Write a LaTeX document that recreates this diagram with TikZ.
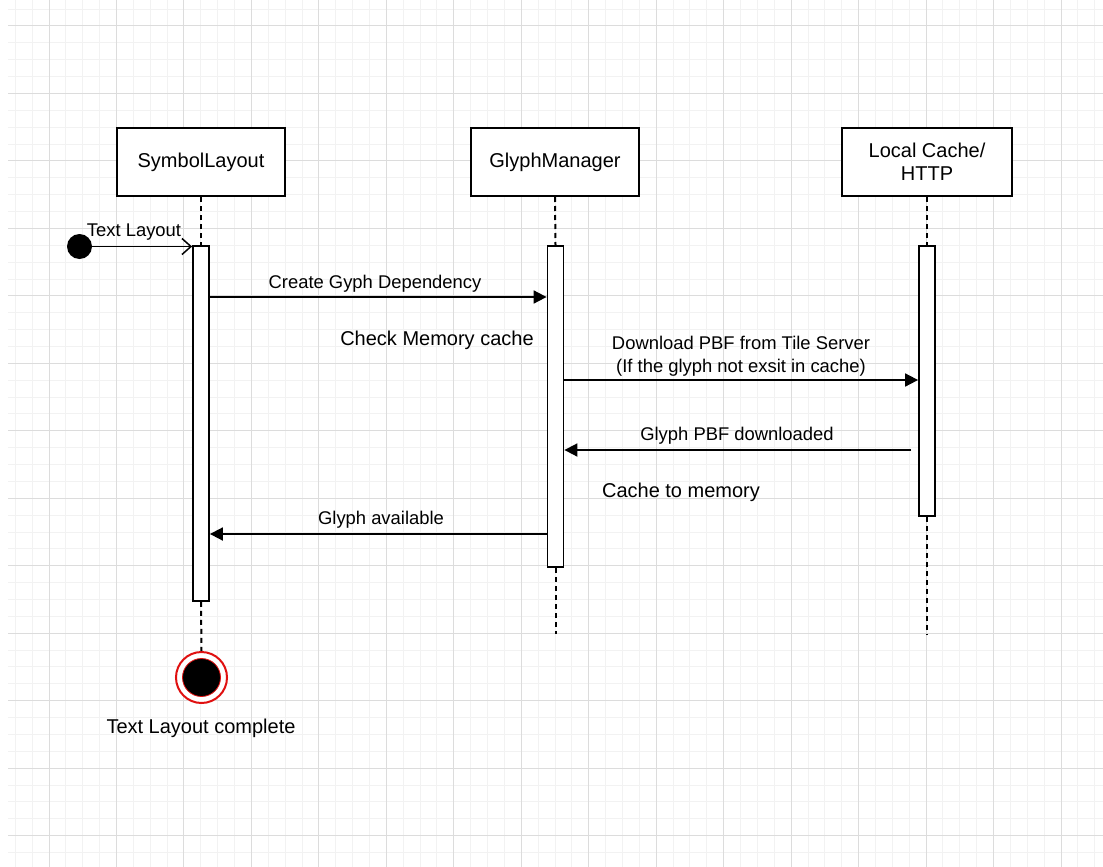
\documentclass[tikz,border=0pt]{standalone}
\usepackage{fontspec}
\setmainfont{Liberation Sans}
\usetikzlibrary{arrows.meta}
\definecolor{minorc}{HTML}{F2F2F2}
\definecolor{majorc}{HTML}{DCDCDC}
\definecolor{endred}{HTML}{E01010}
\tikzset{
  minorgrid/.style={draw=minorc, line width=1pt},
  majorgrid/.style={draw=majorc, line width=1pt},
  headbox/.style={draw=black, fill=white, line width=2pt, minimum width=168pt, minimum height=68pt, inner sep=0pt, align=center, font=\fontsize{20}{23}\selectfont},
  actbar/.style={draw=black, fill=white, line width=1.8pt, minimum width=16pt, inner sep=0pt},
  lifeline/.style={draw=black, line width=2pt, dash pattern=on 5pt off 4pt},
  msg/.style={draw=black, line width=1.8pt, -{Triangle[length=13pt,width=13pt]}},
  msglabel/.style={font=\fontsize{18.4}{23}\selectfont, align=center, inner sep=0pt},
  biglabel/.style={font=\fontsize{20}{23}\selectfont, align=center, inner sep=0pt}
}
\begin{document}
\begin{tikzpicture}[x=1pt,y=-1pt]
\useasboundingbox (0,0) rectangle (1103,867);
\fill[white] (0,0) rectangle (1103,867);
% grid
\foreach \k in {-2,...,62} {\pgfmathsetmacro\xx{49+\k*16.867}\draw[minorgrid] (\xx,0) -- (\xx,867);}
\foreach \k in {-1,...,50} {\pgfmathsetmacro\yy{26+\k*16.867}\draw[minorgrid] (8,\yy) -- (1103,\yy);}
\foreach \k in {0,...,15} {\pgfmathsetmacro\xx{49+\k*67.47}\draw[majorgrid] (\xx,0) -- (\xx,867);}
\foreach \k in {0,...,12} {\pgfmathsetmacro\yy{26+\k*67.47}\draw[majorgrid] (8,\yy) -- (1103,\yy);}

% heads
\node[headbox] (sl) at (201,162) {SymbolLayout};
\node[headbox] (gm) at (555,162) {GlyphManager};
\node[headbox, minimum width=170pt] (lc) at (927,162) {Local Cache/\\HTTP};

% activation bars
\node[actbar, minimum height=355pt] (slbar) at (201,423.5) {};
\node[actbar, minimum height=321pt] (gmbar) at (555.5,406.5) {};
\node[actbar, minimum height=270pt] (lcbar) at (927,381) {};

% end points
\coordinate (gmend) at (555.5,634);
\coordinate (lcend) at (927,634);

% lifelines
\draw[lifeline] (sl.south) -- (slbar.north);
\draw[lifeline] (gm.south) -- (gmbar.north);
\draw[lifeline] (lc.south) -- (lcbar.north);
\draw[lifeline] (gmbar.south) -- (gmend);
\draw[lifeline] (lcbar.south) -- (lcend);

% start / end states
\node[circle, fill=black, minimum size=25pt, inner sep=0pt] (start) at (79.5,246.5) {};
\node[circle, draw=endred, line width=2pt, fill=white, minimum size=51pt, inner sep=0pt] (endo) at (201.5,677.5) {};
\node[circle, draw=endred, line width=0.8pt, fill=black, minimum size=38pt, inner sep=0pt] (endi) at (201.5,677.5) {};
\draw[lifeline] (slbar.south) -- (endo.north);

% messages
\draw[draw=black, line width=1.8pt, -{Straight Barb[length=9pt,width=16pt,line width=1.5pt]}] (start.center) -- (slbar.west |- start.center);
\node[msglabel] (l0) at (134,232) {Text Layout};

\draw[msg] (slbar.east |- 0,297) -- (gmbar.west |- 0,297);
\node[msglabel] (l1) at (375,283.5) {Create Gyph Dependency};

\node[biglabel] (l2) at (437,340.5) {Check Memory cache};

\draw[msg] (gmbar.east |- 0,380) -- (lcbar.west |- 0,380);
\node[msglabel] (l3) at (741,356) {Download PBF from Tile Server\\(If the glyph not exsit in cache)};

\coordinate (pbfstart) at (911,450);
\draw[msg] (pbfstart) -- (gmbar.east |- pbfstart);
\node[msglabel] (l4) at (737,435.5) {Glyph PBF downloaded};

\node[biglabel] (l5) at (681,492.5) {Cache to memory};

\draw[msg] (gmbar.west |- 0,534) -- (slbar.east |- 0,534);
\node[msglabel] (l6) at (381,519.5) {Glyph available};

\node[biglabel] (l7) at (201,728.5) {Text Layout complete};
\end{tikzpicture}
\end{document}
